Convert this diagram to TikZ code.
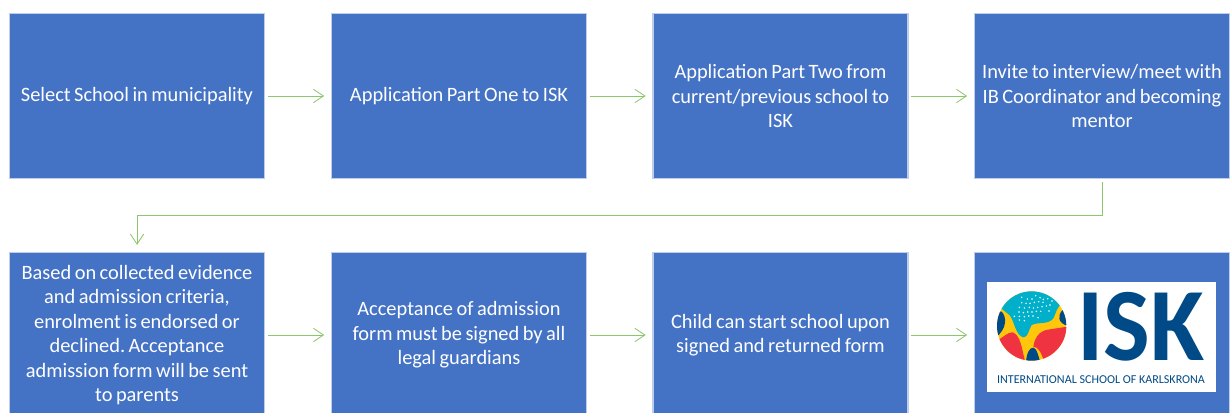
\documentclass[tikz,border=0pt]{standalone}
\usepackage{fontspec}
\setmainfont{Carlito}
\usetikzlibrary{arrows.meta}
\definecolor{boxblue}{HTML}{4472C4}
\definecolor{linegreen}{HTML}{8CC76E}
\definecolor{isknavy}{HTML}{004B87}
\definecolor{iskteal}{HTML}{00AFC9}
\definecolor{iskyellow}{HTML}{FFC60B}
\definecolor{iskred}{HTML}{EF3340}
\tikzset{
  stepbox/.style={rectangle,fill=boxblue,draw=boxblue!35!white,line width=1.2pt,
    minimum width=191pt,text width=186pt,align=center,text=white,inner sep=0pt,
    font=\fontsize{15.3pt}{18.3pt}\selectfont,
    execute at begin node={\frenchspacing\spaceskip=0.17em\relax}},
  toprow/.style={stepbox,minimum height=124pt},
  botrow/.style={stepbox,minimum height=124pt},
  flow/.style={draw=linegreen,line width=0.65pt,-{Straight Barb[length=7.5pt,width=10pt,line width=0.65pt]},shorten >=5pt,shorten <=2pt},
}
\begin{document}
\begin{tikzpicture}[x=0.75pt,y=-0.75pt]
\useasboundingbox (0,0) rectangle (1230,412);
\node[toprow] (a) at (137,96) {Select School in municipality};
\node[toprow] (b) at (459,96) {Application Part One to ISK};
\node[toprow] (c) at (780.5,96) {Application Part Two from\\current/previous school to\\ISK};
\node[toprow] (d) at (1102,96) {Invite to interview/meet with\\IB Coordinator and becoming\\mentor};
\node[botrow] (e) at (137,335) {Based on collected evidence\\and admission criteria,\\enrolment is endorsed or\\declined. Acceptance\\admission form will be sent\\to parents};
\node[botrow] (f) at (459,335) {Acceptance of admission\\form must be signed by all\\legal guardians};
\node[botrow] (g) at (780.5,335) {Child can start school upon\\signed and returned form};
\node[botrow] (h) at (1102,335) {};
\draw[flow] (a) -- (b);
\draw[flow] (b) -- (c);
\draw[flow] (c) -- (d);
\coordinate (mid) at (1102,215);
\coordinate (turn) at (137,215);
\draw[flow] (d.south) -- (mid) -- (turn) -- (e.north);
\draw[flow] (e.east |- f.west) -- (f.west);
\draw[flow] (f) -- (g);
\draw[flow] (g) -- (h);
% logo
\fill[white] (987,282) rectangle (1216,392);
\begin{scope}[shift={(970,250)},x=0.25pt,y=-0.25pt]
  \begin{scope}
    \clip (185,228) circle (104);
    \fill[iskyellow] (80,120) rectangle (290,335);
    \fill[iskteal] (80,120) -- (290,120) -- (290,172) -- (275,165) .. controls (262,165) and (258,190) .. (250,205)
      .. controls (235,225) and (205,215) .. (185,225) .. controls (175,240) and (175,262) .. (160,262)
      .. controls (135,255) and (135,215) .. (118,195) -- (90,172) -- cycle;
    \fill[iskred] (80,272) .. controls (100,262) and (115,245) .. (128,247)
      .. controls (150,255) and (155,290) .. (165,335) -- (80,335) -- cycle;
    \fill[iskred] (190,290) .. controls (195,255) and (215,240) .. (240,238)
      .. controls (260,235) and (275,232) .. (295,230) -- (295,335) -- (222,335) .. controls (215,310) and (205,290) .. (190,290) -- cycle;
    \fill[isknavy] (78,185) -- (95,185) .. controls (110,200) and (112,235) .. (78,262) -- cycle;
    \fill[isknavy] (295,180) -- (278,180) .. controls (262,195) and (262,220) .. (295,228) -- cycle;
    \fill[isknavy] (168,335) .. controls (170,310) and (178,292) .. (190,293) .. controls (200,295) and (205,315) .. (210,335) -- cycle;
    \foreach \px/\py in {155/142,172/147,186/147,197/137,210/143,220/148,233/146,246/153,
      155/158,168/160,180/160,193/157,206/155,219/157,240/165,
      148/172,163/174,178/172,190/174,203/172,216/170,229/168,
      147/186,160/188,173/186,186/186,199/184,212/184,237/183,
      133/199,148/199,163/200,176/198,189/198,204/203,
      148/210,163/212}
      \fill[white] (\px,\py) circle (2.5);
  \end{scope}
\end{scope}
\node[text=isknavy,inner sep=0pt,anchor=center,xscale=0.95,font=\bfseries\fontsize{78pt}{78pt}\selectfont] (isk) at (1141,326.5) {ISK};
\node[text=isknavy,inner sep=0pt,anchor=center,font=\fontsize{9.05pt}{9pt}\selectfont] (iskname) at (1101,380) {INTERNATIONAL SCHOOL OF KARLSKRONA};
\end{tikzpicture}
\end{document}
